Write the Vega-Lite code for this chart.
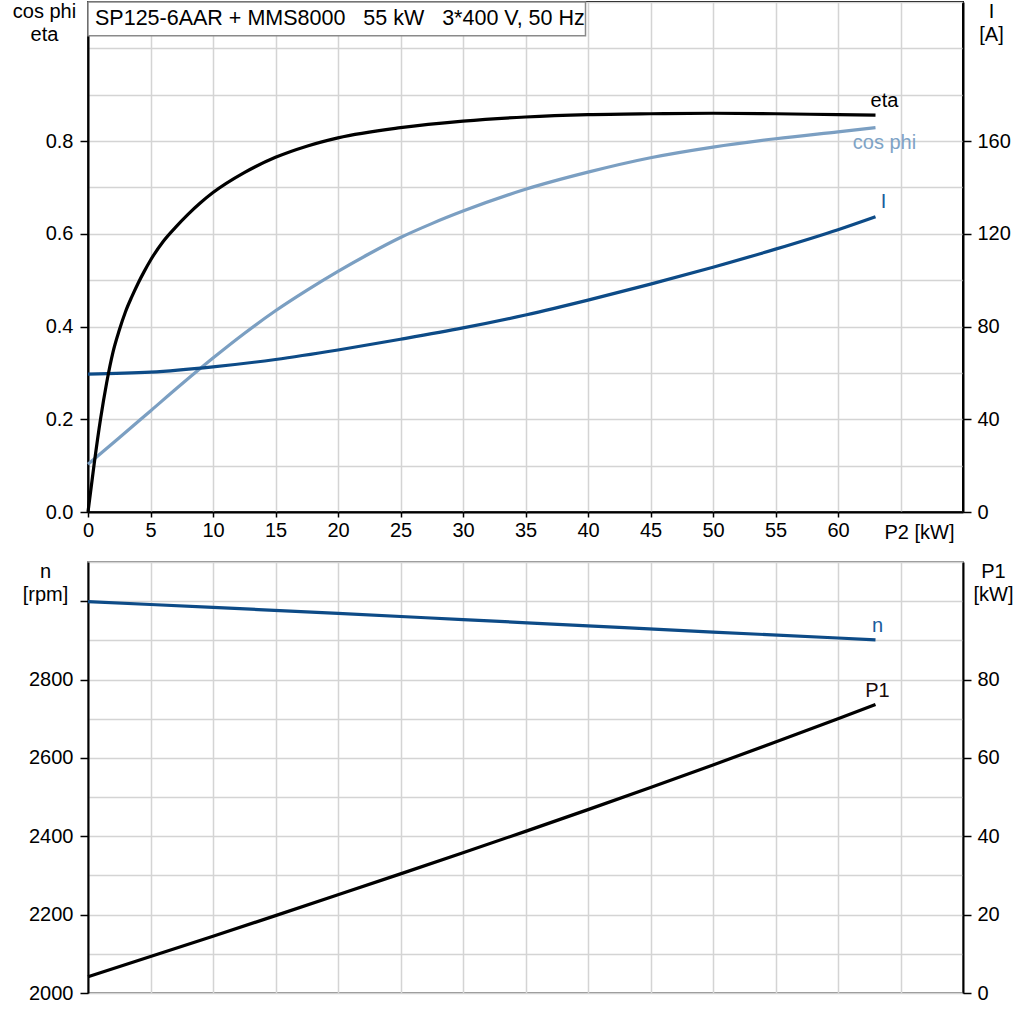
{
  "$schema": "https://vega.github.io/schema/vega-lite/v6.json",
  "padding": {"left": 11, "top": -9, "right": 0, "bottom": 0},
  "background": "white",
  "config": {
    "font": "Liberation Sans",
    "axis": {
      "labelFont": "Liberation Sans", "titleFont": "Liberation Sans",
      "labelFontSize": 20, "titleFontSize": 20, "titleFontWeight": "normal",
      "labelColor": "black", "titleColor": "black",
      "domainColor": "black", "domainWidth": 2,
      "tickColor": "black", "tickWidth": 1.5, "tickSize": 8, "labelPadding": 7,
      "gridColor": "#d4d4d4", "gridWidth": 1.5, "gridOpacity": 1,
      "labelFlush": false, "labelOverlap": false
    },
    "text": {"font": "Liberation Sans", "fontSize": 20}
  },
  "datasets": {
    "top": [
      {"curve": "eta", "P2": 0, "v": 0},
      {"curve": "eta", "P2": 0.5, "v": 0.105},
      {"curve": "eta", "P2": 1, "v": 0.2},
      {"curve": "eta", "P2": 1.5, "v": 0.28},
      {"curve": "eta", "P2": 2, "v": 0.345},
      {"curve": "eta", "P2": 2.5, "v": 0.392},
      {"curve": "eta", "P2": 3, "v": 0.432},
      {"curve": "eta", "P2": 3.5, "v": 0.464},
      {"curve": "eta", "P2": 4, "v": 0.493},
      {"curve": "eta", "P2": 4.5, "v": 0.519},
      {"curve": "eta", "P2": 5, "v": 0.543},
      {"curve": "eta", "P2": 6, "v": 0.583},
      {"curve": "eta", "P2": 7, "v": 0.614},
      {"curve": "eta", "P2": 8, "v": 0.642},
      {"curve": "eta", "P2": 9, "v": 0.667},
      {"curve": "eta", "P2": 10, "v": 0.689},
      {"curve": "eta", "P2": 12.5, "v": 0.732},
      {"curve": "eta", "P2": 15, "v": 0.765},
      {"curve": "eta", "P2": 17.5, "v": 0.789},
      {"curve": "eta", "P2": 20, "v": 0.807},
      {"curve": "eta", "P2": 25, "v": 0.829},
      {"curve": "eta", "P2": 30, "v": 0.843},
      {"curve": "eta", "P2": 35, "v": 0.852},
      {"curve": "eta", "P2": 40, "v": 0.857},
      {"curve": "eta", "P2": 45, "v": 0.859},
      {"curve": "eta", "P2": 50, "v": 0.86},
      {"curve": "eta", "P2": 55, "v": 0.859},
      {"curve": "eta", "P2": 60, "v": 0.857},
      {"curve": "eta", "P2": 63, "v": 0.856},
      {"curve": "cos phi", "P2": 0, "v": 0.103},
      {"curve": "cos phi", "P2": 2.5, "v": 0.16},
      {"curve": "cos phi", "P2": 5, "v": 0.218},
      {"curve": "cos phi", "P2": 7.5, "v": 0.276},
      {"curve": "cos phi", "P2": 10, "v": 0.332},
      {"curve": "cos phi", "P2": 12.5, "v": 0.385},
      {"curve": "cos phi", "P2": 15, "v": 0.434},
      {"curve": "cos phi", "P2": 17.5, "v": 0.478},
      {"curve": "cos phi", "P2": 20, "v": 0.519},
      {"curve": "cos phi", "P2": 22.5, "v": 0.557},
      {"curve": "cos phi", "P2": 25, "v": 0.592},
      {"curve": "cos phi", "P2": 27.5, "v": 0.622},
      {"curve": "cos phi", "P2": 30, "v": 0.649},
      {"curve": "cos phi", "P2": 35, "v": 0.696},
      {"curve": "cos phi", "P2": 40, "v": 0.733},
      {"curve": "cos phi", "P2": 45, "v": 0.764},
      {"curve": "cos phi", "P2": 50, "v": 0.787},
      {"curve": "cos phi", "P2": 55, "v": 0.805},
      {"curve": "cos phi", "P2": 60, "v": 0.82},
      {"curve": "cos phi", "P2": 63, "v": 0.829},
      {"curve": "I", "P2": 0, "v": 59.5},
      {"curve": "I", "P2": 5, "v": 60.3},
      {"curve": "I", "P2": 10, "v": 62.6},
      {"curve": "I", "P2": 15, "v": 65.8},
      {"curve": "I", "P2": 20, "v": 69.9},
      {"curve": "I", "P2": 25, "v": 74.5},
      {"curve": "I", "P2": 30, "v": 79.4},
      {"curve": "I", "P2": 35, "v": 85.0},
      {"curve": "I", "P2": 40, "v": 91.4},
      {"curve": "I", "P2": 45, "v": 98.3},
      {"curve": "I", "P2": 50, "v": 105.6},
      {"curve": "I", "P2": 55, "v": 113.4},
      {"curve": "I", "P2": 60, "v": 121.8},
      {"curve": "I", "P2": 63, "v": 127.4}
    ],
    "bottom": [
      {"curve": "n", "P2": 0, "v": 2999},
      {"curve": "n", "P2": 10, "v": 2984},
      {"curve": "n", "P2": 20, "v": 2969},
      {"curve": "n", "P2": 30, "v": 2953},
      {"curve": "n", "P2": 40, "v": 2937},
      {"curve": "n", "P2": 50, "v": 2921},
      {"curve": "n", "P2": 60, "v": 2906},
      {"curve": "n", "P2": 63, "v": 2901},
      {"curve": "P1", "P2": 0, "v": 4.15},
      {"curve": "P1", "P2": 5, "v": 9.3},
      {"curve": "P1", "P2": 10, "v": 14.5},
      {"curve": "P1", "P2": 15, "v": 19.75},
      {"curve": "P1", "P2": 20, "v": 25.05},
      {"curve": "P1", "P2": 25, "v": 30.4},
      {"curve": "P1", "P2": 30, "v": 35.8},
      {"curve": "P1", "P2": 35, "v": 41.25},
      {"curve": "P1", "P2": 40, "v": 46.8},
      {"curve": "P1", "P2": 45, "v": 52.45},
      {"curve": "P1", "P2": 50, "v": 58.2},
      {"curve": "P1", "P2": 55, "v": 64.05},
      {"curve": "P1", "P2": 60, "v": 70.0},
      {"curve": "P1", "P2": 63, "v": 73.6}
    ]
  },
  "spacing": 8,
  "vconcat": [
    {
      "width": 875,
      "height": 510,
      "view": {"stroke": "black", "strokeWidth": 2},
      "resolve": {"scale": {"y": "independent"}},
      "layer": [
        {
          "data": {"name": "top"},
          "transform": [{"filter": "datum.curve === 'cos phi'"}],
          "mark": {"type": "line", "strokeWidth": 3.2, "interpolate": "monotone", "color": "#7b9fc2"},
          "encoding": {
            "x": {
              "field": "P2", "type": "quantitative",
              "scale": {"domain": [0, 70], "nice": false, "zero": false},
              "axis": {
                "values": [0, 5, 10, 15, 20, 25, 30, 35, 40, 45, 50, 55, 60, 65],
                "grid": true,
                "tickSize": 5, "labelPadding": 3,
                "labelExpr": "datum.value < 62 ? datum.label : ''",
                "tickOpacity": {"condition": {"test": "datum.value < 62", "value": 1}, "value": 0},
                "title": "P2 [kW]",
                "titleX": 831, "titleY": 20, "titleAlign": "center", "titleBaseline": "middle"
              }
            },
            "y": {
              "field": "v", "type": "quantitative",
              "scale": {"domain": [0, 1.1], "nice": false, "zero": false},
              "axis": {
                "orient": "left",
                "values": [0, 0.1, 0.2, 0.3, 0.4, 0.5, 0.6, 0.7, 0.8, 0.9, 1, 1.1],
                "grid": true,
                "format": ".1f",
                "labelExpr": "indexof([0, 0.2, 0.4, 0.6, 0.8], datum.value) >= 0 ? datum.label : ''",
                "tickOpacity": {"condition": {"test": "indexof([0, 0.2, 0.4, 0.6, 0.8], datum.value) >= 0", "value": 1}, "value": 0},
                "title": ["cos phi", "eta"],
                "titleAngle": 0, "titleAlign": "center", "titleBaseline": "top",
                "titleX": -44, "titleY": -1, "titleLineHeight": 23
              }
            }
          }
        },
        {
          "data": {"name": "top"},
          "transform": [{"filter": "datum.curve === 'I'"}],
          "mark": {"type": "line", "strokeWidth": 3.2, "interpolate": "monotone", "color": "#0d4b87"},
          "encoding": {
            "x": {"field": "P2", "type": "quantitative", "scale": {"domain": [0, 70], "nice": false, "zero": false}},
            "y": {
              "field": "v", "type": "quantitative",
              "scale": {"domain": [0, 220], "nice": false, "zero": false},
              "axis": {
                "orient": "right",
                "values": [0, 40, 80, 120, 160],
                "grid": false,
                "labelPadding": 6,
                "title": ["I", "[A]"],
                "titleAngle": 0, "titleAlign": "center", "titleBaseline": "top",
                "titleX": 28, "titleY": -1, "titleLineHeight": 23
              }
            }
          }
        },
        {
          "data": {"name": "top"},
          "transform": [{"filter": "datum.curve === 'eta'"}],
          "mark": {"type": "line", "strokeWidth": 3.2, "interpolate": "monotone", "color": "#000000"},
          "encoding": {
            "x": {"field": "P2", "type": "quantitative"},
            "y": {"field": "v", "type": "quantitative", "scale": {"domain": [0, 1.1], "nice": false, "zero": false}, "axis": null}
          }
        },
        {
          "data": {"values": [{}]},
          "mark": {"type": "rect", "fill": "white", "stroke": "#8a8a8a", "strokeWidth": 1.5},
          "encoding": {
            "x": {"datum": 0, "type": "quantitative"},
            "x2": {"datum": 39.8},
            "y": {"datum": 1.1, "type": "quantitative", "scale": {"domain": [0, 1.1], "nice": false, "zero": false}, "axis": null},
            "y2": {"datum": 1.027}
          }
        },
        {
          "data": {"values": [{}]},
          "mark": {"type": "text", "align": "left", "baseline": "middle", "fontSize": 21.5, "color": "black",
                   "text": "SP125-6AAR + MMS8000\u00a0\u00a0\u00a055 kW\u00a0\u00a0\u00a03*400 V, 50 Hz"},
          "encoding": {
            "x": {"datum": 0.56, "type": "quantitative"},
            "y": {"datum": 1.0635, "type": "quantitative", "scale": {"domain": [0, 1.1], "nice": false, "zero": false}, "axis": null}
          }
        },
        {
          "data": {"name": "top"},
          "transform": [{"filter": "datum.curve === 'eta' && datum.P2 === 63"}],
          "mark": {"type": "text", "align": "center", "baseline": "middle", "dx": 9, "dy": -14, "color": "black", "fontSize": 20},
          "encoding": {
            "x": {"field": "P2", "type": "quantitative"},
            "y": {"field": "v", "type": "quantitative", "scale": {"domain": [0, 1.1], "nice": false, "zero": false}, "axis": null},
            "text": {"field": "curve"}
          }
        },
        {
          "data": {"name": "top"},
          "transform": [{"filter": "datum.curve === 'cos phi' && datum.P2 === 63"}],
          "mark": {"type": "text", "align": "center", "baseline": "middle", "dx": 9, "dy": 15, "color": "#7ea3c6", "fontSize": 20},
          "encoding": {
            "x": {"field": "P2", "type": "quantitative"},
            "y": {"field": "v", "type": "quantitative", "scale": {"domain": [0, 1.1], "nice": false, "zero": false}, "axis": null},
            "text": {"field": "curve"}
          }
        },
        {
          "data": {"name": "top"},
          "transform": [{"filter": "datum.curve === 'I' && datum.P2 === 63"}],
          "mark": {"type": "text", "align": "center", "baseline": "middle", "dx": 8, "dy": -15, "color": "#1a5c9c", "fontSize": 20},
          "encoding": {
            "x": {"field": "P2", "type": "quantitative"},
            "y": {"field": "v", "type": "quantitative", "scale": {"domain": [0, 220], "nice": false, "zero": false}, "axis": null},
            "text": {"field": "curve"}
          }
        }
      ]
    },
    {
      "width": 875,
      "height": 431,
      "view": {"stroke": "#8c8c8c", "strokeWidth": 2},
      "resolve": {"scale": {"y": "independent"}},
      "layer": [
        {
          "data": {"name": "bottom"},
          "transform": [{"filter": "datum.curve === 'n'"}],
          "mark": {"type": "line", "strokeWidth": 3.2, "interpolate": "monotone", "color": "#0d4b87"},
          "encoding": {
            "x": {
              "field": "P2", "type": "quantitative",
              "scale": {"domain": [0, 70], "nice": false, "zero": false},
              "axis": {
                "values": [0, 5, 10, 15, 20, 25, 30, 35, 40, 45, 50, 55, 60, 65],
                "grid": true, "labels": false, "ticks": false, "domain": false, "title": null
              }
            },
            "y": {
              "field": "v", "type": "quantitative",
              "scale": {"domain": [2000, 3100], "nice": false, "zero": false},
              "axis": {
                "orient": "left",
                "values": [2000, 2100, 2200, 2300, 2400, 2500, 2600, 2700, 2800, 2900, 3000, 3100],
                "grid": true,
                "labelExpr": "indexof([2000, 2200, 2400, 2600, 2800], datum.value) >= 0 ? datum.value : ''",
                "tickOpacity": {"condition": {"test": "indexof([2000, 2200, 2400, 2600, 2800, 3000], datum.value) >= 0", "value": 1}, "value": 0},
                "title": ["n", "[rpm]"],
                "titleAngle": 0, "titleAlign": "center", "titleBaseline": "top",
                "titleX": -43, "titleY": -1, "titleLineHeight": 23
              }
            }
          }
        },
        {
          "data": {"name": "bottom"},
          "transform": [{"filter": "datum.curve === 'P1'"}],
          "mark": {"type": "line", "strokeWidth": 3.2, "interpolate": "monotone", "color": "#000000"},
          "encoding": {
            "x": {"field": "P2", "type": "quantitative", "scale": {"domain": [0, 70], "nice": false, "zero": false}},
            "y": {
              "field": "v", "type": "quantitative",
              "scale": {"domain": [0, 110], "nice": false, "zero": false},
              "axis": {
                "orient": "right",
                "values": [0, 20, 40, 60, 80],
                "grid": false,
                "labelPadding": 6,
                "title": ["P1", "[kW]"],
                "titleAngle": 0, "titleAlign": "center", "titleBaseline": "top",
                "titleX": 30, "titleY": -1, "titleLineHeight": 23
              }
            }
          }
        },
        {
          "data": {"name": "bottom"},
          "transform": [{"filter": "datum.curve === 'n' && datum.P2 === 63"}],
          "mark": {"type": "text", "align": "center", "baseline": "middle", "dx": 2, "dy": -14, "color": "#1a5c9c", "fontSize": 20},
          "encoding": {
            "x": {"field": "P2", "type": "quantitative"},
            "y": {"field": "v", "type": "quantitative", "scale": {"domain": [2000, 3100], "nice": false, "zero": false}, "axis": null},
            "text": {"field": "curve"}
          }
        },
        {
          "data": {"name": "bottom"},
          "transform": [{"filter": "datum.curve === 'P1' && datum.P2 === 63"}],
          "mark": {"type": "text", "align": "center", "baseline": "middle", "dx": 2, "dy": -14, "color": "#1a0a0a", "fontSize": 20},
          "encoding": {
            "x": {"field": "P2", "type": "quantitative"},
            "y": {"field": "v", "type": "quantitative", "scale": {"domain": [0, 110], "nice": false, "zero": false}, "axis": null},
            "text": {"field": "curve"}
          }
        }
      ]
    }
  ]
}
